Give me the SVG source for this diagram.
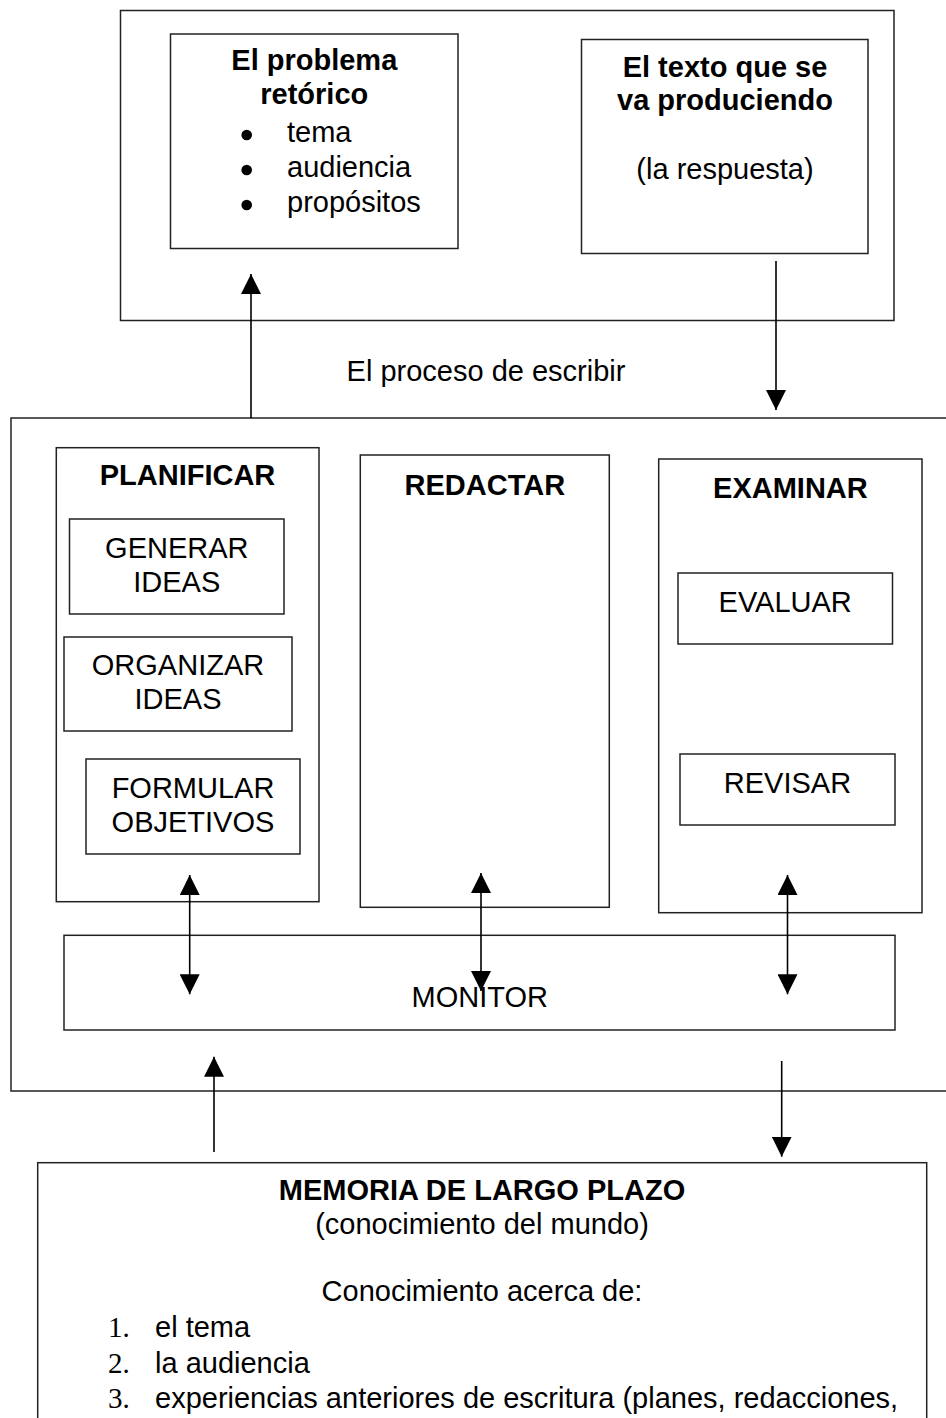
<svg xmlns="http://www.w3.org/2000/svg" width="946" height="1418" viewBox="0 0 946 1418">
<style>
  .box { fill: none; stroke: #222; stroke-width: 1.5; }
  .t { font-family: "Liberation Sans", Arial, sans-serif; font-size: 29px; fill: #000; }
  .c { text-anchor: middle; }
  .b { font-weight: bold; }
  .num { font-family: "Liberation Serif", "Times New Roman", serif; font-size: 29px; fill: #000; }
  .bul { fill: #000; }
  .con { fill: none; stroke: #000; stroke-width: 1.6; }
</style>
<defs>
  <marker id="ah" viewBox="0 0 20 20" refX="20" refY="10" markerWidth="20" markerHeight="20" markerUnits="userSpaceOnUse" orient="auto-start-reverse">
    <path d="M0,0 L20,10 L0,20 z" fill="#000"/>
  </marker>
</defs>
<rect width="946" height="1418" fill="#fff"/>

<g id="contexto">
  <rect class="box" x="120.5" y="10.5" width="773.5" height="310"/>
</g>
<g id="problema-retorico">
  <rect class="box" x="170.5" y="34" width="287.5" height="214.5"/>
  <text class="t c b" x="314.3" y="70">El problema</text>
  <text class="t c b" x="314.3" y="104">retórico</text>
  <circle class="bul" cx="246.7" cy="135" r="5.3"/>
  <circle class="bul" cx="246.7" cy="170" r="5.3"/>
  <circle class="bul" cx="246.7" cy="205" r="5.3"/>
  <text class="t" x="287" y="141.7">tema</text>
  <text class="t" x="287" y="177">audiencia</text>
  <text class="t" x="287" y="212">propósitos</text>
</g>
<g id="texto-producido">
  <rect class="box" x="581.5" y="39.5" width="286.5" height="214"/>
  <text class="t c b" x="725" y="77">El texto que se</text>
  <text class="t c b" x="725" y="110">va produciendo</text>
  <text class="t c" x="725" y="178.5">(la respuesta)</text>
</g>

<g id="proceso-label">
  <text class="t c" x="486" y="381">El proceso de escribir</text>
</g>

<g id="proceso">
  <rect class="box" x="11" y="418" width="960" height="673"/>
</g>
<g id="planificar">
  <rect class="box" x="56.3" y="447.7" width="262.7" height="454"/>
  <text class="t c b" x="187.5" y="485">PLANIFICAR</text>
</g>
<g id="generar">
  <rect class="box" x="69.5" y="519" width="214.5" height="95"/>
  <text class="t c" x="176.8" y="557.7">GENERAR</text>
  <text class="t c" x="176.8" y="591.7">IDEAS</text>
</g>
<g id="organizar">
  <rect class="box" x="64" y="637" width="228" height="94"/>
  <text class="t c" x="178" y="675">ORGANIZAR</text>
  <text class="t c" x="178" y="708.5">IDEAS</text>
</g>
<g id="formular">
  <rect class="box" x="86" y="759" width="214" height="95"/>
  <text class="t c" x="193" y="798.3">FORMULAR</text>
  <text class="t c" x="193" y="832.3">OBJETIVOS</text>
</g>
<g id="redactar">
  <rect class="box" x="360.3" y="455" width="249" height="452.3"/>
  <text class="t c b" x="484.8" y="495">REDACTAR</text>
</g>
<g id="examinar">
  <rect class="box" x="658.7" y="459" width="263.3" height="453.7"/>
  <text class="t c b" x="790.4" y="497.7">EXAMINAR</text>
</g>
<g id="evaluar">
  <rect class="box" x="678" y="573" width="214.5" height="71"/>
  <text class="t c" x="785.2" y="612">EVALUAR</text>
</g>
<g id="revisar">
  <rect class="box" x="680" y="754" width="215" height="71"/>
  <text class="t c" x="787.5" y="793.3">REVISAR</text>
</g>
<g id="monitor">
  <rect class="box" x="64" y="935.3" width="831" height="94.7"/>
  <text class="t c" x="479.7" y="1007.3">MONITOR</text>
</g>

<g id="memoria">
  <rect class="box" x="37.7" y="1162.7" width="889" height="300"/>
  <text class="t c b" x="482" y="1200">MEMORIA DE LARGO PLAZO</text>
  <text class="t c" x="482" y="1233.5">(conocimiento del mundo)</text>
  <text class="t c" x="482" y="1300.5">Conocimiento acerca de:</text>
  <text class="num" x="108" y="1336.6">1.</text>
  <text class="num" x="108" y="1372.6">2.</text>
  <text class="num" x="108" y="1407.6">3.</text>
  <text class="t" x="155" y="1336.6">el tema</text>
  <text class="t" x="155" y="1372.6">la audiencia</text>
  <text class="t" x="155" y="1407.6">experiencias anteriores de escritura (planes, redacciones,</text>
</g>

<g id="connectors">
  <line class="con" x1="251" y1="418" x2="251" y2="274" marker-end="url(#ah)"/>
  <line class="con" x1="776" y1="261" x2="776" y2="410" marker-end="url(#ah)"/>
  <line class="con" x1="189.7" y1="875" x2="189.7" y2="994.3" marker-start="url(#ah)" marker-end="url(#ah)"/>
  <line class="con" x1="481" y1="873" x2="481" y2="991" marker-start="url(#ah)" marker-end="url(#ah)"/>
  <line class="con" x1="787.5" y1="875" x2="787.5" y2="994.3" marker-start="url(#ah)" marker-end="url(#ah)"/>
  <line class="con" x1="214" y1="1152" x2="214" y2="1056.7" marker-end="url(#ah)"/>
  <line class="con" x1="781.7" y1="1061" x2="781.7" y2="1156.7" marker-end="url(#ah)"/>
</g>
</svg>
